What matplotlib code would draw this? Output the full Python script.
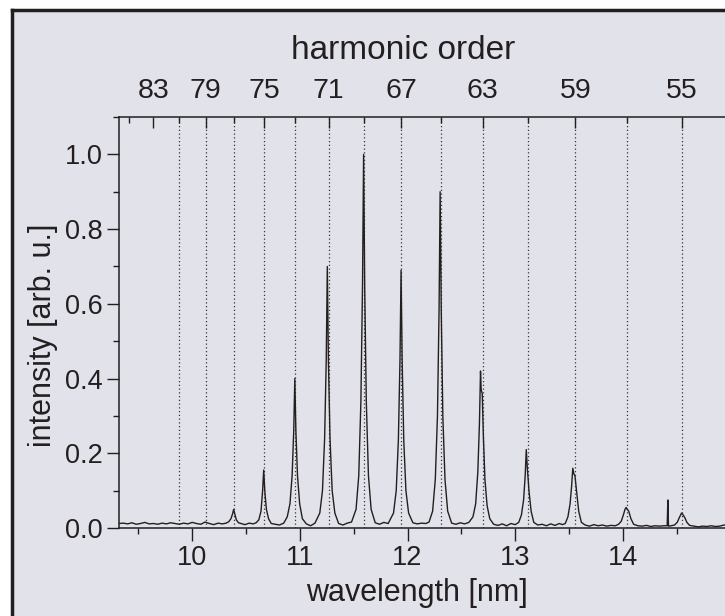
#!/usr/bin/env python3
import matplotlib

matplotlib.use("Agg")
import matplotlib.pyplot as plt
from matplotlib.lines import Line2D
from matplotlib.patches import Rectangle
from matplotlib.ticker import FormatStrFormatter, MultipleLocator

# spectrum (wavelength in nm, intensity in arb. u.),
# one row per baseline stretch / harmonic peak
wavelength = [
    9.32, 9.36, 9.40, 9.44, 9.48, 9.52, 9.56, 9.60, 9.64, 9.68, 9.72, 9.76, 9.80,
    9.84, 9.88, 9.92, 9.96, 10.00, 10.04, 10.08, 10.12, 10.16, 10.20, 10.24, 10.28,
    10.315, 10.34, 10.36, 10.375, 10.385, 10.395, 10.41, 10.43, 10.455,
    10.49, 10.53, 10.565,
    10.594, 10.619, 10.639, 10.654, 10.664, 10.674, 10.689, 10.709, 10.734,
    10.77, 10.81, 10.85,
    10.883, 10.908, 10.928, 10.943, 10.953, 10.963, 10.978, 10.998, 11.023,
    11.06, 11.10, 11.14,
    11.185, 11.21, 11.23, 11.245, 11.255, 11.265, 11.28, 11.30, 11.325,
    11.36, 11.40, 11.44, 11.48,
    11.522, 11.547, 11.567, 11.582, 11.592, 11.602, 11.617, 11.637, 11.662,
    11.70, 11.74, 11.78, 11.82,
    11.87, 11.895, 11.915, 11.93, 11.94, 11.95, 11.965, 11.985, 12.01,
    12.05, 12.09, 12.13, 12.17, 12.20,
    12.233, 12.258, 12.278, 12.293, 12.303, 12.313, 12.328, 12.348, 12.373,
    12.41, 12.45, 12.49, 12.53, 12.57,
    12.608, 12.633, 12.653, 12.668, 12.678, 12.684, 12.694, 12.704, 12.719, 12.739, 12.764,
    12.80, 12.84, 12.88, 12.92, 12.96, 13.00,
    13.033, 13.058, 13.078, 13.093, 13.103, 13.113, 13.128, 13.148, 13.173,
    13.21, 13.25, 13.29, 13.33, 13.37, 13.41, 13.44,
    13.465, 13.49, 13.51, 13.525, 13.535, 13.545, 13.555, 13.57, 13.59, 13.615,
    13.65, 13.69, 13.73, 13.77, 13.81, 13.85, 13.89, 13.93,
    13.96, 13.985, 14.005, 14.02, 14.03, 14.04, 14.055, 14.075, 14.10,
    14.14, 14.18, 14.22, 14.26, 14.30, 14.34, 14.38, 14.412, 14.418, 14.424, 14.45,
    14.48, 14.505, 14.525, 14.545, 14.56, 14.575, 14.595, 14.62,
    14.66, 14.70, 14.74, 14.78, 14.82, 14.86, 14.90, 14.94, 14.98, 15.00,
]
intensity = [
    0.012, 0.013, 0.011, 0.014, 0.010, 0.012, 0.015, 0.011, 0.012, 0.010, 0.013, 0.011, 0.014,
    0.012, 0.010, 0.013, 0.011, 0.015, 0.012, 0.010, 0.016, 0.012, 0.009, 0.013, 0.011,
    0.013, 0.017, 0.025, 0.038, 0.050, 0.038, 0.022, 0.014, 0.012,
    0.009, 0.013, 0.011,
    0.014, 0.022, 0.045, 0.100, 0.155, 0.100, 0.050, 0.025, 0.012,
    0.010, 0.008, 0.013,
    0.030, 0.065, 0.140, 0.260, 0.400, 0.260, 0.140, 0.065, 0.025,
    0.011, 0.006, 0.013,
    0.040, 0.100, 0.240, 0.450, 0.700, 0.450, 0.240, 0.100, 0.040,
    0.012, 0.008, 0.013, 0.016,
    0.050, 0.140, 0.340, 0.650, 1.000, 0.650, 0.340, 0.140, 0.050,
    0.014, 0.010, 0.015, 0.012,
    0.040, 0.100, 0.235, 0.450, 0.690, 0.450, 0.235, 0.100, 0.040,
    0.014, 0.011, 0.013, 0.012, 0.016,
    0.045, 0.130, 0.300, 0.585, 0.900, 0.585, 0.300, 0.130, 0.045,
    0.013, 0.010, 0.014, 0.011, 0.015,
    0.030, 0.065, 0.150, 0.280, 0.420, 0.370, 0.360, 0.250, 0.130, 0.060, 0.025,
    0.010, 0.007, 0.011, 0.006, 0.012, 0.009,
    0.015, 0.035, 0.075, 0.140, 0.210, 0.160, 0.100, 0.045, 0.015,
    0.008, 0.010, 0.006, 0.011, 0.007, 0.012, 0.009,
    0.012, 0.030, 0.065, 0.115, 0.160, 0.145, 0.140, 0.100, 0.045, 0.015,
    0.008, 0.005, 0.009, 0.006, 0.008, 0.005, 0.007, 0.006,
    0.010, 0.018, 0.035, 0.050, 0.055, 0.050, 0.045, 0.025, 0.010,
    0.006, 0.005, 0.007, 0.004, 0.006, 0.005, 0.006, 0.006, 0.075, 0.005, 0.006,
    0.008, 0.015, 0.028, 0.040, 0.035, 0.028, 0.015, 0.007,
    0.005, 0.003, 0.005, 0.004, 0.006, 0.004, 0.005, 0.008, 0.007, 0.009,
]
assert len(wavelength) == len(intensity)

# harmonic orders of the 800 nm drive
drive_nm = 800.0
major_orders = [83, 79, 75, 71, 67, 63, 59, 55]
minor_orders = [85, 81, 77, 73, 69, 65, 61, 57]
dotted_orders = [81, 79, 77, 75, 73, 71, 69, 67, 65, 63, 61, 59, 57, 55]
wl_ticks = [10, 11, 12, 13, 14]

plt.rcParams["font.family"] = ["Liberation Sans", "DejaVu Sans"]

bg = "#e2e2ea"
ink = "#231f20"
W, H = 725, 616

fig = plt.figure(figsize=(W / 100, H / 100), dpi=100, facecolor="white")
# panel frame: only its left and top edges fall inside the picture
x0, y1 = 12 / W, 1 - 10 / H
fig.patches.append(Rectangle((x0, 0), 1 - x0, y1, transform=fig.transFigure,
                             facecolor=bg, edgecolor="none", zorder=-10))
fig.lines.append(Line2D([x0, x0], [0, y1], transform=fig.transFigure,
                        color=ink, linewidth=2.5, solid_capstyle="projecting"))
fig.lines.append(Line2D([x0, 1], [y1, y1], transform=fig.transFigure,
                        color=ink, linewidth=2.5, solid_capstyle="projecting"))

ax = fig.add_axes([119 / W, 88 / H, 611.5 / W, 411 / H])
ax.set_facecolor("none")

for q in dotted_orders:
    ax.axvline(drive_nm / q, color="#333333", linestyle=(0, (1, 2)), linewidth=0.9, zorder=1)

ax.plot(wavelength, intensity, color=ink, linewidth=1.0, zorder=2)

ax.set_xlim(9.32, 15.0)
ax.set_ylim(0, 1.1)
ax.set_xticks(wl_ticks)
ax.xaxis.set_minor_locator(MultipleLocator(0.5))
ax.yaxis.set_major_locator(MultipleLocator(0.2))
ax.yaxis.set_minor_locator(MultipleLocator(0.1))
ax.yaxis.set_major_formatter(FormatStrFormatter("%.1f"))

ax.tick_params(which="major", direction="out", length=9, width=1.0, color=ink,
               labelsize=19.5, labelcolor=ink, pad=3)
ax.tick_params(which="minor", direction="out", length=4, width=1.0, color=ink)
ax.spines["right"].set_visible(False)
for s in ("left", "top", "bottom"):
    ax.spines[s].set_color(ink)
    ax.spines[s].set_linewidth(1.1)

ax.set_xlabel("wavelength [nm]", fontsize=22, color=ink, labelpad=5)
ax.xaxis.label.set_x(0.487)
ax.set_ylabel("intensity [arb. u.]", fontsize=22, color=ink, labelpad=5)
ax.yaxis.label.set_y(0.47)

top = ax.twiny()
top.set_xlim(ax.get_xlim())
top.set_xticks([drive_nm / q for q in major_orders])
top.set_xticklabels([str(q) for q in major_orders])
top.set_xticks([drive_nm / q for q in minor_orders], minor=True)
top.tick_params(which="major", direction="in", length=8, width=1.0, color=ink,
                labelsize=20.5, labelcolor=ink, pad=9)
top.tick_params(which="minor", direction="in", length=4, width=1.0, color=ink)
for s in top.spines.values():
    s.set_visible(False)
top.set_xlabel("harmonic order", fontsize=24, color=ink, labelpad=14)
top.xaxis.label.set_x(0.464)

fig.savefig("out.png", dpi=100, facecolor="white")
